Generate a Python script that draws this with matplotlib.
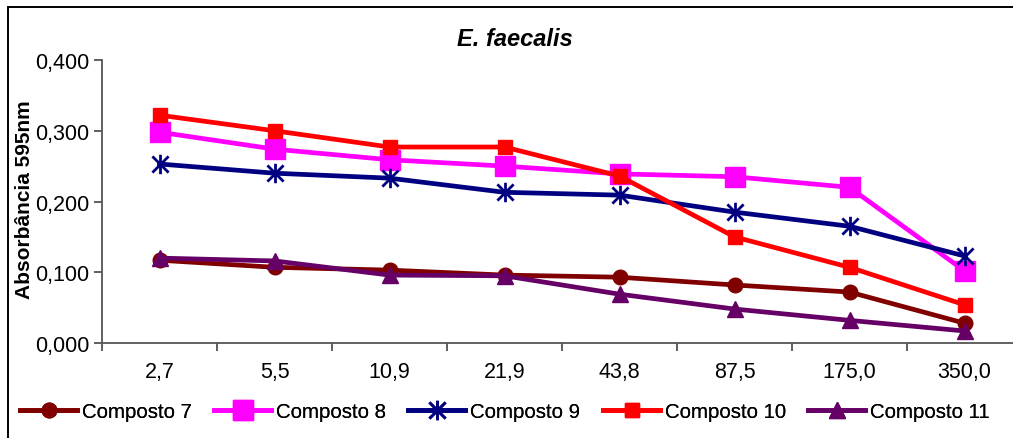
import matplotlib
matplotlib.use("Agg")
import matplotlib.pyplot as plt
from matplotlib.patches import Rectangle
from matplotlib.path import Path

plt.rcParams['font.family'] = ['Liberation Sans', 'DejaVu Sans']

concentrations = ["2,7", "5,5", "10,9", "21,9", "43,8", "87,5", "175,0", "350,0"]
composto_7 = [0.117, 0.107, 0.103, 0.096, 0.093, 0.082, 0.072, 0.028]
composto_8 = [0.298, 0.274, 0.259, 0.250, 0.239, 0.235, 0.220, 0.102]
composto_9 = [0.253, 0.240, 0.233, 0.213, 0.209, 0.185, 0.165, 0.123]
composto_10 = [0.322, 0.300, 0.277, 0.277, 0.236, 0.150, 0.107, 0.054]
composto_11 = [0.120, 0.116, 0.096, 0.095, 0.069, 0.048, 0.032, 0.017]
series_names = ["Composto 7", "Composto 8", "Composto 9", "Composto 10", "Composto 11"]
y_ticks = [0.0, 0.1, 0.2, 0.3, 0.4]
y_tick_labels = ["0,000", "0,100", "0,200", "0,300", "0,400"]

# asterisk marker: an X crossed by a vertical stroke
star = Path([(-1, -1), (1, 1), (-1, 1), (1, -1), (0, -1.2), (0, 1.2)],
            [Path.MOVETO, Path.LINETO, Path.MOVETO, Path.LINETO, Path.MOVETO, Path.LINETO])

W, H = 1013, 439
fig = plt.figure(figsize=(W / 100, H / 100), dpi=100)

# outer chart frame (runs off the right and bottom edges)
fig.patches.append(Rectangle((8 / W, -0.05), 1.2, 1 - 7.5 / H + 0.05,
                             transform=fig.transFigure, fill=False,
                             edgecolor="black", linewidth=1.4, zorder=0))

left, right = 102 / W, 1022 / W
bottom, top = 1 - 344 / H, 1 - 61 / H
ax = fig.add_axes([left, bottom, right - left, top - bottom])
ax.set_facecolor("none")

x = list(range(len(concentrations)))
styles = [
    (composto_7, "#800000", dict(marker="o", markersize=10.5)),
    (composto_8, "#FF00FF", dict(marker="s", markersize=14)),
    (composto_9, "#000080", dict(marker=star, markersize=14, markeredgewidth=2)),
    (composto_10, "#FF0000", dict(marker="s", markersize=10)),
    (composto_11, "#660066", dict(marker="^", markersize=11.5)),
]
handles = []
for (vals, color, mk), name in zip(styles, series_names):
    h, = ax.plot(x, vals, color=color, linewidth=3.4, markerfacecolor=color,
                 markeredgecolor=color, label=name, clip_on=False, **mk)
    handles.append(h)

ax.set_xlim(-0.5, len(concentrations) - 0.5)
ax.set_ylim(0, 0.4)
ax.set_yticks(y_ticks)
ax.set_yticklabels(y_tick_labels)
ax.set_xticks([i - 0.5 for i in range(len(concentrations) + 1)])
ax.set_xticklabels([])
ax.set_xticks(x, minor=True)
ax.set_xticklabels(concentrations, minor=True)
ax.tick_params(axis="x", which="minor", length=0, pad=13, labelsize=15.5)
ax.tick_params(axis="x", which="major", direction="out", length=6, width=1.2, color="#444444")
ax.tick_params(axis="y", direction="out", length=6, width=1.2, color="#444444",
               labelsize=15.5, pad=3)
for s in ("top", "right"):
    ax.spines[s].set_visible(False)
for s in ("left", "bottom"):
    ax.spines[s].set_color("#555555")
    ax.spines[s].set_linewidth(1.3)

fig.text(25 / W, 1 - 200 / H, "Absorbância 595nm", rotation=90, ha="center", va="center",
         fontsize=15, fontweight="bold")
fig.text(515 / W, 1 - 40 / H, "E. faecalis", ha="center", va="center",
         fontsize=17, fontweight="bold", fontstyle="italic")

# one legend entry per series, laid out in a single row under the axis
legend_x = [20, 214, 408, 603, 808]
for h, lx in zip(handles, legend_x):
    leg = fig.legend(handles=[h], loc="center left", bbox_to_anchor=(lx / W, 1 - 413 / H),
                     frameon=False, fontsize=14.7, handlelength=2.8,
                     handletextpad=0.25, borderaxespad=0, borderpad=0)
    fig.add_artist(leg)

fig.savefig("out.png", dpi=100)
